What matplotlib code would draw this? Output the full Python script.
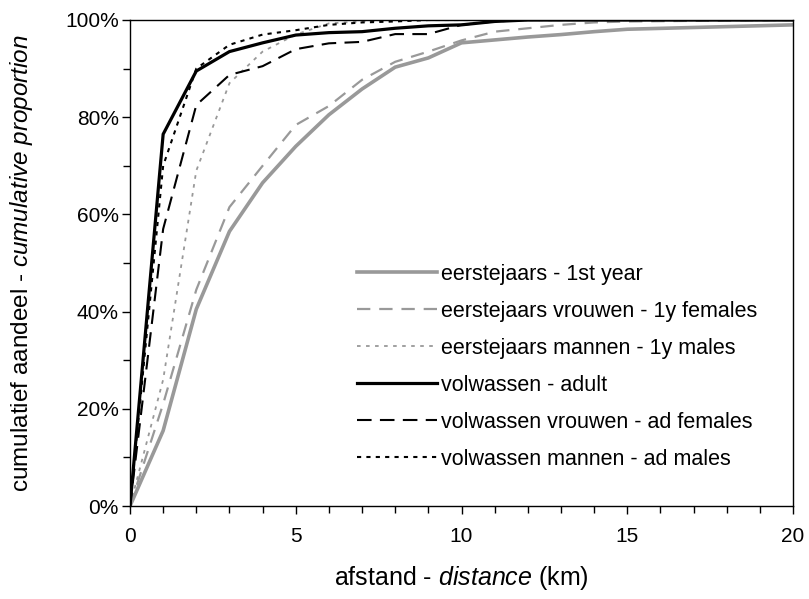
import matplotlib
matplotlib.use("Agg")
import matplotlib.pyplot as plt
from matplotlib.ticker import MultipleLocator, FuncFormatter

plt.rcParams['font.family'] = ['Liberation Sans', 'DejaVu Sans']
plt.rcParams['mathtext.fontset'] = 'custom'
plt.rcParams['mathtext.rm'] = 'Liberation Sans'
plt.rcParams['mathtext.it'] = 'Liberation Sans:italic'

distance = [0, 1, 2, 3, 4, 5, 6, 7, 8, 9, 10, 11, 12, 13, 14, 15, 20]

first_year   = [0, 15.5, 40.5, 56.5, 66.5, 74, 80.5, 85.8, 90.3, 92.2, 95.3, 95.9, 96.5, 97.0, 97.6, 98.1, 99.0]
first_fem    = [0, 21, 44.5, 61.5, 70, 78.4, 82.3, 87.7, 91.4, 93.5, 95.8, 97.6, 98.3, 99.0, 99.5, 99.7, 100]
first_male   = [0, 26, 69, 87, 93.5, 97, 99.3, 99.7, 100, 100, 100, 100, 100, 100, 100, 100, 100]
adult        = [0, 76.5, 89.5, 93.5, 95.3, 96.9, 97.4, 97.6, 98.3, 98.8, 99.0, 99.7, 100, 100, 100, 100, 100]
adult_fem    = [0, 57, 82.5, 88.7, 90.5, 94.0, 95.2, 95.5, 97.1, 97.1, 99.0, 99.7, 100, 100, 100, 100, 100]
adult_male   = [0, 70, 90, 94.9, 97.0, 97.9, 99.0, 99.5, 99.7, 100, 100, 100, 100, 100, 100, 100, 100]

labels = [
    "eerstejaars - 1st year",
    "eerstejaars vrouwen - 1y females",
    "eerstejaars mannen - 1y males",
    "volwassen - adult",
    "volwassen vrouwen - ad females",
    "volwassen mannen - ad males",
]

gray = "#999999"

fig = plt.figure(figsize=(8.09, 5.99), dpi=100)
ax = fig.add_axes([130/809, 1-506/599, (793-130)/809, (506-20)/599])

ax.plot(distance, first_year, color=gray, lw=2.6, ls='-', label=labels[0], solid_joinstyle='miter')
ax.plot(distance, first_fem, color=gray, lw=1.6, ls=(0, (6, 4)), label=labels[1])
ax.plot(distance, first_male, color=gray, lw=1.3, ls=(0, (2, 3)), label=labels[2])
ax.plot(distance, adult, color='black', lw=2.3, ls='-', label=labels[3], solid_joinstyle='miter')
ax.plot(distance, adult_fem, color='black', lw=1.5, ls=(0, (7, 4)), label=labels[4])
ax.plot(distance, adult_male, color='black', lw=1.5, ls=(0, (2, 2.5)), label=labels[5])

ax.set_xlim(0, 20)
ax.set_ylim(0, 100)
ax.xaxis.set_major_locator(MultipleLocator(5))
ax.xaxis.set_minor_locator(MultipleLocator(1))
ax.yaxis.set_major_locator(MultipleLocator(20))
ax.yaxis.set_minor_locator(MultipleLocator(10))
ax.yaxis.set_major_formatter(FuncFormatter(lambda v, p: f"{int(round(v))}%"))

ax.tick_params(axis='both', which='major', direction='out', length=6, width=1, labelsize=15)
ax.tick_params(axis='x', which='major', pad=9)
ax.tick_params(axis='y', which='major', pad=2)
ax.tick_params(axis='both', which='minor', direction='out', length=5, width=1)
for s in ax.spines.values():
    s.set_linewidth(1)
    s.set_color('black')

ax.set_xlabel("afstand - $\\it{distance}$ (km)", fontsize=18)
ax.set_ylabel("cumulatief aandeel - $\\it{cumulative\\ proportion}$", fontsize=17.5)
ax.xaxis.set_label_coords(0.5, (506-578)/486, transform=ax.transAxes)
ax.yaxis.set_label_coords((22-130)/663, 0.5, transform=ax.transAxes)
ax.xaxis.label.set_va('center')
ax.yaxis.label.set_va('center')

leg = ax.legend(loc='upper left', bbox_to_anchor=((357-130)/663, 1-(264-20)/486),
                frameon=False, fontsize=15.5, handlelength=3.7, handletextpad=0.2,
                labelspacing=0.74, borderaxespad=0, borderpad=0)

fig.savefig("out.png", dpi=100)
